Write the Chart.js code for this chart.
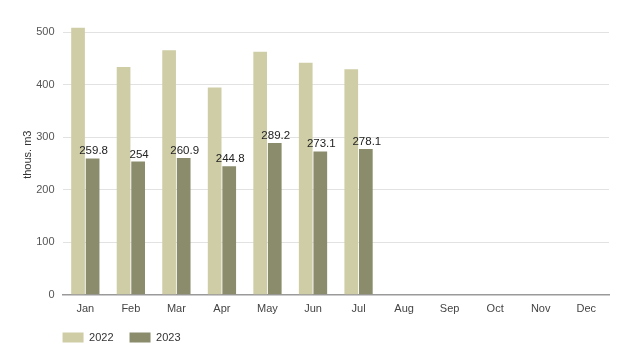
<!DOCTYPE html>
<html>
<head>
<meta charset="utf-8">
<script src="https://cdn.jsdelivr.net/npm/chart.js@4"></script>
<style>
  html, body { margin: 0; padding: 0; background: #fff; }
  #wrap { width: 624px; height: 362px; }
</style>
</head>
<body>
<div id="wrap"><canvas id="volumeChart"></canvas></div>
<script>
const months = ["Jan", "Feb", "Mar", "Apr", "May", "Jun", "Jul", "Aug", "Sep", "Oct", "Nov", "Dec"];
const values2022 = [509, 434, 466, 395, 463, 442, 430, null, null, null, null, null];
const values2023 = [259.8, 254, 260.9, 244.8, 289.2, 273.1, 278.1, null, null, null, null, null];
const yTicks = [0, 100, 200, 300, 400, 500];

Chart.defaults.font.family = "'Liberation Sans', Arial, sans-serif";
Chart.defaults.font.size = 11;

// value labels above the 2023 bars
const barLabels = {
  id: "barLabels",
  afterDatasetsDraw(chart) {
    const ctx = chart.ctx;
    const meta = chart.getDatasetMeta(1);
    ctx.save();
    ctx.font = "11.5px 'Liberation Sans', Arial, sans-serif";
    ctx.fillStyle = "#222";
    ctx.textAlign = "center";
    ctx.textBaseline = "alphabetic";
    meta.data.forEach((bar, i) => {
      const v = values2023[i];
      if (v == null) return;
      ctx.fillText(String(v), bar.x + 1, bar.y - 4);
    });
    ctx.restore();
  },
};

// push the legend over so it lines up with the plot
const legendShift = {
  id: "legendShift",
  beforeDraw(chart) {
    chart.legend.left = chart.chartArea.left - 16;
  },
};

const ctx = document.getElementById("volumeChart").getContext("2d");
new Chart(ctx, {
  type: "bar",
  data: {
    labels: months,
    datasets: [
      {
        label: "2022",
        data: values2022,
        backgroundColor: "#cfcda6",
      },
      {
        label: "2023",
        data: values2023,
        backgroundColor: "#8a8c6c",
      },
    ],
  },
  options: {
    responsive: true,
    maintainAspectRatio: false,
    animation: false,
    layout: { padding: { top: 7, right: 15, bottom: 9, left: 16 } },
    datasets: {
      bar: { categoryPercentage: 0.64, barPercentage: 0.94 },
    },
    scales: {
      x: {
        grid: { display: false },
        border: { color: "#9a9a9a", width: 1.5 },
        ticks: { color: "#444", padding: 0 },
      },
      y: {
        min: 0,
        max: 534,
        afterBuildTicks(scale) {
          scale.ticks = yTicks.map((v) => ({ value: v }));
        },
        grid: {
          color: (c) => (c.tick && c.tick.value === 0 ? "rgba(0,0,0,0)" : "#e2e2e2"),
          drawTicks: false,
        },
        border: { display: false },
        ticks: { color: "#555", padding: 8 },
        title: {
          display: true,
          text: "thous. m3",
          color: "#333",
          padding: { top: 5, bottom: -6 },
        },
      },
    },
    plugins: {
      legend: {
        position: "bottom",
        align: "start",
        labels: { boxWidth: 21, boxHeight: 10, padding: 16, color: "#333" },
      },
      tooltip: { enabled: false },
    },
  },
  plugins: [barLabels, legendShift],
});
</script>
</body>
</html>
